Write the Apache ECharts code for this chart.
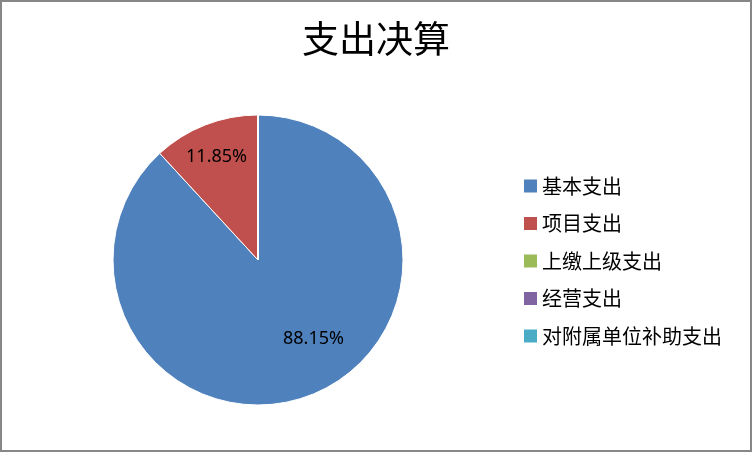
<!DOCTYPE html>
<html>
<head>
<meta charset="utf-8">
<title>支出决算</title>
<script src="https://cdn.jsdelivr.net/npm/echarts@6/dist/echarts.min.js"></script>
<style>
html, body { margin: 0; padding: 0; background: #fff; }
#main { width: 752px; height: 452px; box-sizing: border-box; border: 2px solid #878787; }
</style>
</head>
<body>
<div id="main"></div>
<script type="text/javascript">
// 支出决算 数据
var categories = ['基本支出', '项目支出', '上缴上级支出', '经营支出', '对附属单位补助支出'];
var values = [88.15, 11.85, 0, 0, 0];
var colors = ['#4F81BD', '#C0504D', '#9BBB59', '#8064A2', '#4BACC6'];

// 标签位置微调（相对默认 inside 位置）
var labelShift = [[28, 9], [-14, -33], [0, 0], [0, 0], [0, 0]];

var pieData = categories.map(function (name, i) {
    return {
        name: name,
        value: values[i],
        label: { show: values[i] > 0 }
    };
});

var chart = echarts.init(document.getElementById('main'), null, { width: 748, height: 448 });
var option = {
    animation: false,
    color: colors,
    title: {
        text: '支出决算',
        left: 'center',
        top: 13,
        textStyle: {
            fontFamily: 'Noto Sans CJK SC',
            fontSize: 37,
            fontWeight: 'normal',
            color: '#000'
        }
    },
    legend: {
        orient: 'vertical',
        left: 517,
        top: 169,
        icon: 'rect',
        itemWidth: 13,
        itemHeight: 13,
        itemGap: 17.5,
        itemStyle: { borderWidth: 0, borderColor: 'transparent' },
        data: categories,
        textStyle: {
            fontFamily: 'Noto Sans CJK SC',
            fontSize: 20,
            lineHeight: 20,
            color: '#000'
        }
    },
    series: [
        {
            name: '支出决算',
            type: 'pie',
            center: [256, 258],
            radius: 145,
            startAngle: 90,
            clockwise: true,
            label: {
                position: 'inside',
                fontFamily: 'Noto Sans',
                fontSize: 18,
                color: '#000',
                formatter: function (p) {
                    return p.value.toFixed(2) + '%';
                }
            },
            labelLine: { show: false },
            labelLayout: function (p) {
                return { dx: labelShift[p.dataIndex][0], dy: labelShift[p.dataIndex][1] };
            },
            itemStyle: {
                borderColor: '#fff',
                borderWidth: 1
            },
            emphasis: { disabled: true },
            data: pieData
        }
    ]
};

chart.setOption(option);
</script>
</body>
</html>
